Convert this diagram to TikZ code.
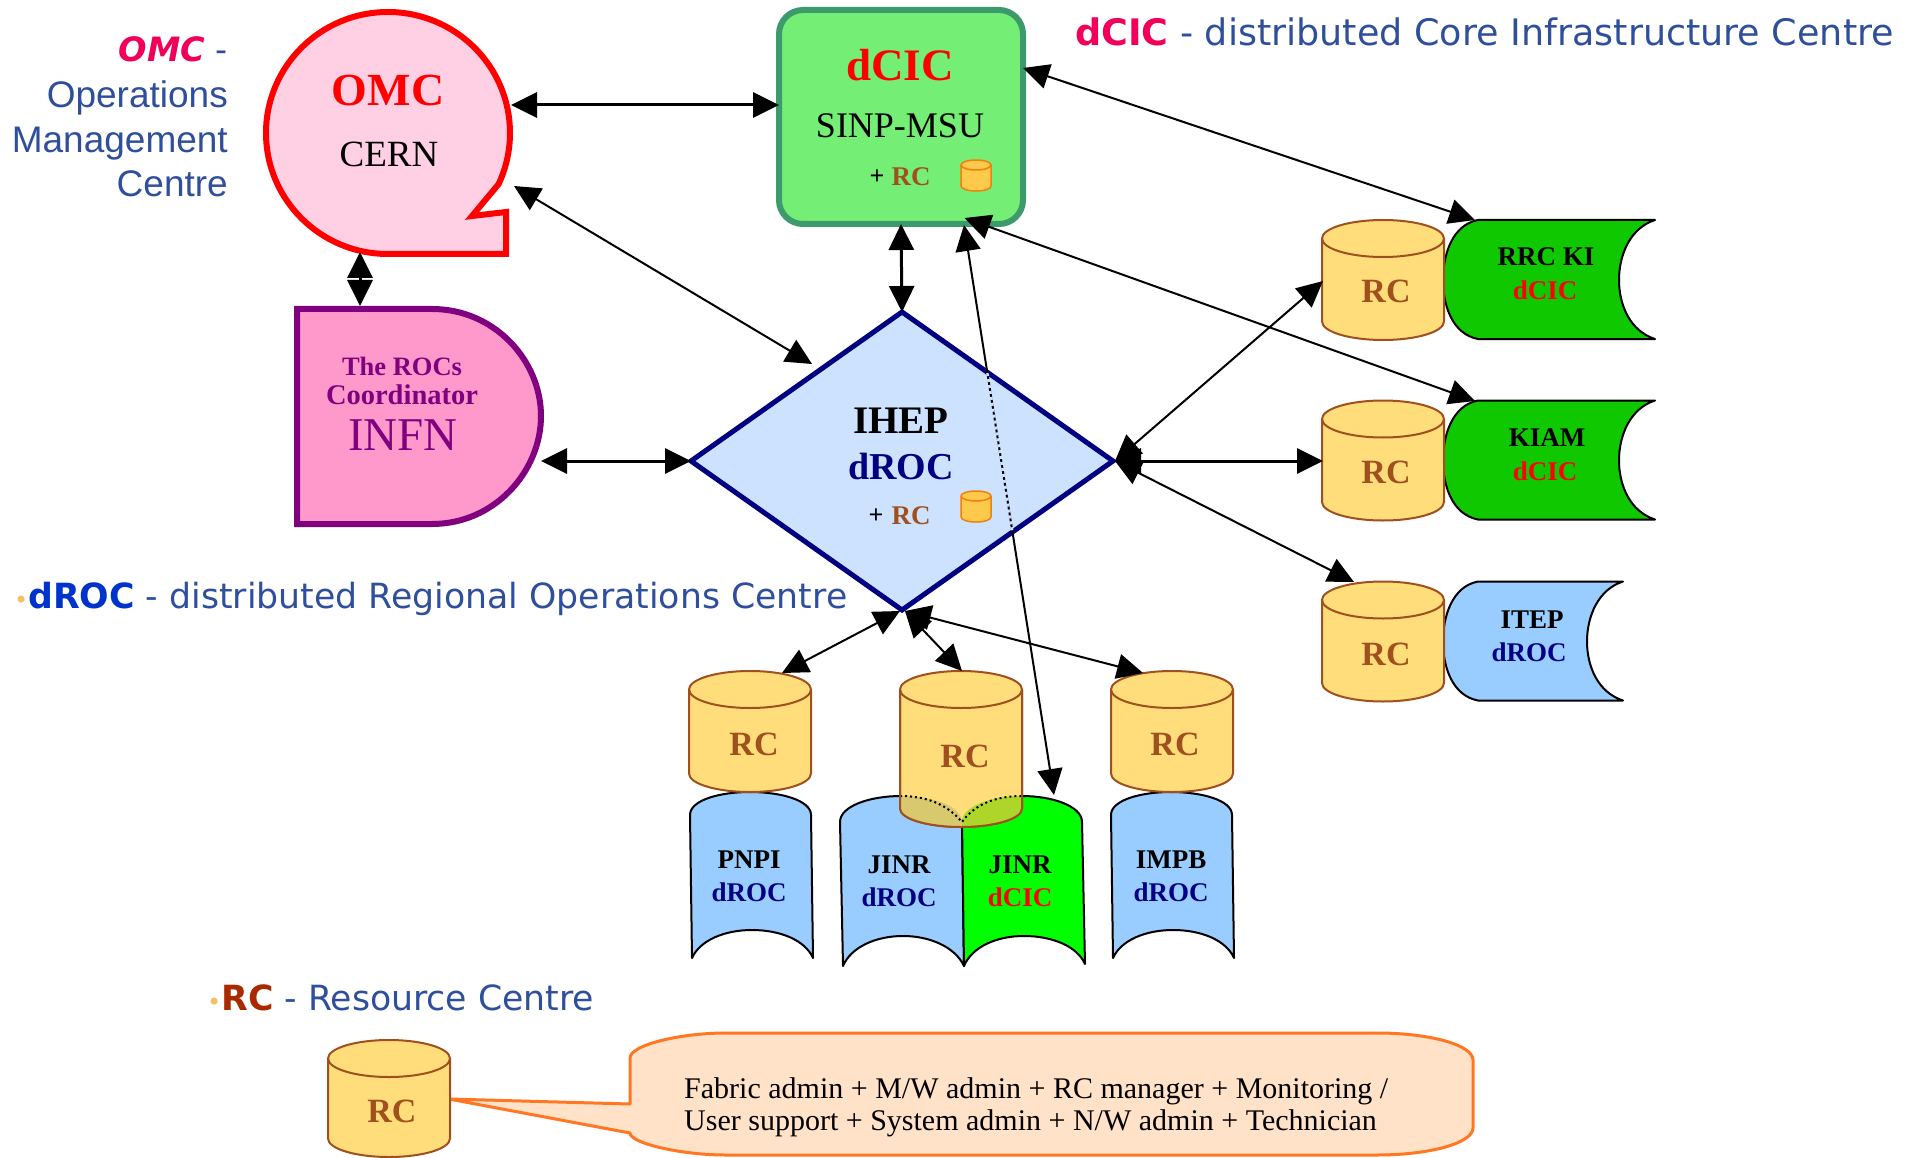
\documentclass[tikz,border=0pt]{standalone}
\usepackage{fontspec}
\setmainfont{Liberation Serif}
\newfontfamily\armfont{Liberation Sans}
\newfontfamily\comfont{DejaVu Sans}
\usetikzlibrary{arrows.meta,shapes.geometric}
\definecolor{lblblue}{HTML}{2F4F9C}
\definecolor{lblmag}{HTML}{F0005A}
\definecolor{rcbrown}{HTML}{A0501E}
\definecolor{cylfillc}{HTML}{FFDD7A}
\definecolor{navyc}{HTML}{000080}
\definecolor{purplec}{HTML}{800080}
\definecolor{tapeblue}{HTML}{99CCFF}
\definecolor{tapegreen}{HTML}{10C800}
\definecolor{omcfill}{HTML}{FFCFE3}
\definecolor{infnfill}{HTML}{FF99CC}
\definecolor{diafill}{HTML}{CCE2FF}
\definecolor{dcicfill}{HTML}{74EE74}
\definecolor{dcicline}{HTML}{3C9A6C}
\definecolor{callfill}{HTML}{FFE2C8}
\definecolor{callline}{HTML}{FF7722}
\definecolor{ovleft}{HTML}{D8C86E}
\definecolor{ovright}{HTML}{AED62A}
\definecolor{rcdark}{HTML}{AA2A00}
\definecolor{droclab}{HTML}{0033CC}
\definecolor{bulletc}{HTML}{F5C060}
\newcommand{\fs}[1]{\fontsize{#1}{#1}\selectfont}
\tikzset{
  conn/.style={draw=black,line width=2pt,{Triangle[length=26pt,width=25pt]}-{Triangle[length=26pt,width=25pt]}},
  thickconn/.style={conn,line width=3pt},
  cylstyle/.style={draw=rcbrown,line width=2pt},
  tape/.style={draw=black,line width=2pt,line join=round},
  rclabel/.style={text=rcbrown,font=\bfseries\fs{34},inner sep=0pt},
  tapetext/.style={font=\bfseries\fs{27},inner sep=0pt},
  lab/.style={inner sep=0pt,anchor=base west,font=\comfont\fs{34.7},text=lblblue},
  arm/.style={inner sep=0pt,anchor=base east,font=\armfont\fs{37},text=lblblue}
}
\newcommand{\rccyl}[3]{% left, top, height
  \begin{scope}[shift={(#1,-#2)}]
    \path[cylstyle,fill=cylfillc] (0,-18.5) arc[start angle=180,end angle=0,x radius=61pt,y radius=18.5pt]
      -- (122,-#3+18.5) arc[start angle=0,end angle=-180,x radius=61pt,y radius=18.5pt] -- cycle;
    \draw[cylstyle] (0,-18.5) arc[start angle=180,end angle=360,x radius=61pt,y radius=18.5pt];
  \end{scope}}
\newcommand{\smallcyl}[2]{% left, top
  \begin{scope}[shift={(#1,-#2)}]
    \path[draw=orange!80!brown,line width=1.5pt,fill=orange!60!yellow!70] (0,-5) arc[start angle=180,end angle=0,x radius=15pt,y radius=5pt]
      -- (30,-26) arc[start angle=0,end angle=-180,x radius=15pt,y radius=5pt] -- cycle;
    \draw[draw=orange!80!brown,line width=1.5pt] (0,-5) arc[start angle=180,end angle=360,x radius=15pt,y radius=5pt];
  \end{scope}}
% horizontal tape: top y, left bulge x, right offset, fill
\newcommand{\htape}[4]{%
  \draw[tape,fill=#4] (#2+35,-#1) -- (#2+#3,-#1)
    .. controls (#2+#3-25,-#1-8) and (#2+#3-36,-#1-35) .. (#2+#3-36,-#1-60)
    .. controls (#2+#3-36,-#1-85) and (#2+#3-25,-#1-111) .. (#2+#3,-#1-119)
    -- (#2+35,-#1-119)
    .. controls (#2+9,-#1-114) and (#2,-#1-85) .. (#2,-#1-60)
    .. controls (#2,-#1-35) and (#2+9,-#1-5) .. (#2+35,-#1) -- cycle;}
% vertical tape: left x, top y
\newcommand{\vtape}[2]{%
  \draw[tape,fill=tapeblue] (#1,-#2-23)
    .. controls (#1,-#2-8) and (#1+30,-#2) .. (#1+60,-#2)
    .. controls (#1+90,-#2) and (#1+121,-#2-8) .. (#1+121,-#2-23)
    -- (#1+123,-#2-166)
    .. controls (#1+115,-#2-148) and (#1+90,-#2-138) .. (#1+62,-#2-138)
    .. controls (#1+35,-#2-138) and (#1+10,-#2-148) .. (#1+2,-#2-166) -- cycle;}
\def\jinrL{(840,-822) .. controls (840,-806) and (870,-796) .. (901,-796)
    .. controls (932,-796) and (962,-806) .. (962,-822)
    -- (964,-966) .. controls (955,-947) and (930,-936) .. (903,-936)
    .. controls (876,-936) and (851,-947) .. (843,-966) -- cycle}
\def\jinrR{(962,-822) .. controls (962,-806) and (992,-796) .. (1022,-796)
    .. controls (1052,-796) and (1082,-806) .. (1082,-822)
    -- (1085,-964) .. controls (1077,-946) and (1052,-936) .. (1024,-936)
    .. controls (996,-936) and (972,-947) .. (964,-966) -- cycle}
\def\jrcclip{(900,-689.5) -- (1022,-689.5) -- (1022,-808.5) arc[start angle=0,end angle=-180,x radius=61pt,y radius=18.5pt] -- cycle}
\begin{document}
\begin{tikzpicture}[x=1pt,y=1pt]
\useasboundingbox (0,-1158) rectangle (1914,0);
\fill[white] (0,-1158) rectangle (1914,0);

% side labels
\node[lab,font=\comfont\fs{36.5}] (lbldcic) at (1075,-46) {{\bfseries\color{lblmag}dCIC} - distributed Core Infrastructure Centre};
\node[lab] (lbldroc) at (14,-608) {{\fs{24}\color{bulletc}•}{\bfseries\color{droclab}dROC} - distributed Regional Operations Centre};
\node[lab] (lblrc) at (207,-1010) {{\fs{24}\color{bulletc}•}{\bfseries\color{rcdark}RC} - Resource Centre};
\node[inner sep=0pt,anchor=base east,font=\comfont\fs{33.5},text=lblblue] (lblomc) at (228,-62) {{\bfseries\itshape\color{lblmag}OMC} -};
\node[arm] (lblomc1) at (228,-108) {Operations};
\node[arm] (lblomc2) at (228,-153) {Management};
\node[arm] (lblomc3) at (228,-197) {Centre};

% OMC
\draw[draw=red,line width=6pt,fill=omcfill,line join=miter] (388,-254)
  arc[start angle=270,end angle=-25,x radius=122pt,y radius=121pt]
  -- (472,-216) -- (506,-212) -- (506,-254) -- cycle;
\node[inner sep=0pt,text=red,font=\bfseries\fs{46}] (omct) at (388,-90) {OMC};
\node[inner sep=0pt,font=\fs{37}] (omcc) at (389,-154) {CERN};

% INFN
\draw[draw=purplec,line width=6pt,fill=infnfill,line join=miter] (297,-309) -- (432,-309)
  .. controls (495,-309) and (541,-361) .. (541,-416)
  .. controls (541,-471) and (495,-524) .. (432,-524) -- (297,-524) -- cycle;
\node[inner sep=0pt,text=purplec,font=\bfseries\fs{26.5}] (roc1) at (402,-366) {The ROCs};
\node[inner sep=0pt,text=purplec,font=\bfseries\fs{28.5}] (roc2) at (402,-395) {Coordinator};
\node[inner sep=0pt,text=purplec,font=\fs{47}] (infn) at (403,-435) {INFN};

% dCIC
\node[draw=dcicline,line width=6pt,fill=dcicfill,rounded corners=24pt,
  minimum width=244pt,minimum height=214pt,inner sep=0pt,outer sep=0pt] (dcic) at (901,-117) {};
\node[inner sep=0pt,text=red,font=\bfseries\fs{45}] (dcict) at (900,-65) {dCIC};
\node[inner sep=0pt,font=\fs{36}] (sinp) at (900,-126) {SINP-MSU};
\node[inner sep=0pt,font=\bfseries\fs{26}] (dcicplus) at (877,-177) {+};
\node[rclabel,font=\bfseries\fs{27}] (dcicrc) at (911,-177) {RC};
\smallcyl{961}{160}

% IHEP diamond
\node[draw=navyc,line width=5pt,fill=diafill,diamond,shape aspect=1.416,
  minimum width=422pt,minimum height=298pt,inner sep=0pt,outer sep=0pt] (ihep) at (902,-461) {};
\node[inner sep=0pt,font=\bfseries\fs{39}] (ihept) at (901,-421) {IHEP};
\node[inner sep=0pt,text=navyc,font=\bfseries\fs{38}] (ihepd) at (901,-467) {dROC};
\node[inner sep=0pt,font=\bfseries\fs{26}] (iplus) at (876,-516) {+};
\node[rclabel,font=\bfseries\fs{27}] (iheprc) at (911,-516) {RC};
\smallcyl{961}{491}

% right column
\htape{220}{1443}{212}{tapegreen}
\htape{400.5}{1443}{212}{tapegreen}
\htape{581.5}{1443}{180}{tapeblue}
\rccyl{1322}{220}{120}
\rccyl{1322}{400.5}{120}
\rccyl{1322}{581.5}{120}
\node[rclabel] (rc1) at (1386,-291) {RC};
\node[rclabel] (rc2) at (1386,-472) {RC};
\node[rclabel] (rc3) at (1386,-654) {RC};
\node[tapetext] (rrc) at (1546,-257) {RRC KI};
\node[tapetext,text=red] (rrcd) at (1545,-290) {dCIC};
\node[tapetext] (kiam) at (1547,-438) {KIAM};
\node[tapetext,text=red] (kiamd) at (1545,-471) {dCIC};
\node[tapetext] (itep) at (1532,-620) {ITEP};
\node[tapetext,text=navyc] (itepd) at (1529,-652) {dROC};

% bottom row
\vtape{690}{792}
\vtape{1111}{792}
\draw[tape,fill=tapeblue] \jinrL;
\draw[tape,fill=green] \jinrR;
\rccyl{689}{671}{121}
\rccyl{1111}{671}{121}
\rccyl{900}{671}{156}
\begin{scope}
  \clip \jrcclip;
  \fill[ovleft] \jinrL;
  \fill[ovright] \jinrR;
  \draw[black,line width=2pt,dash pattern=on 2pt off 3pt] (900,-796) .. controls (932,-796) and (950,-808) .. (962,-822)
    .. controls (972,-808) and (990,-796) .. (1022,-796);
\end{scope}
\draw[cylstyle] (900,-689.5) -- (900,-808.5) arc[start angle=180,end angle=360,x radius=61pt,y radius=18.5pt] -- (1022,-689.5);
\node[rclabel] (rc4) at (754,-744) {RC};
\node[rclabel] (rc5) at (965,-756) {RC};
\node[rclabel] (rc6) at (1175,-744) {RC};
\node[tapetext] (pnpi) at (749,-860) {PNPI};
\node[tapetext,text=navyc] (pnpid) at (749,-892) {dROC};
\node[tapetext] (jinr1) at (899,-865) {JINR};
\node[tapetext,text=navyc] (jinr1d) at (899,-897) {dROC};
\node[tapetext] (jinr2) at (1020,-865) {JINR};
\node[tapetext,text=red] (jinr2d) at (1020,-897) {dCIC};
\node[tapetext] (impb) at (1171,-860) {IMPB};
\node[tapetext,text=navyc] (impbd) at (1171,-892) {dROC};

% legend
\draw[draw=callline,line width=3pt,fill=callfill,line join=round] (630,-1104) -- (630,-1058)
  .. controls (630,-1045) and (680,-1033) .. (726,-1033) -- (1377,-1033)
  .. controls (1430,-1033) and (1473,-1045) .. (1473,-1060) -- (1473,-1128)
  .. controls (1473,-1143) and (1430,-1155) .. (1377,-1155) -- (726,-1155)
  .. controls (680,-1155) and (630,-1143) .. (630,-1133) -- (449,-1099) -- cycle;
\rccyl{328}{1040}{117}
\node[rclabel] (rc7) at (392,-1111) {RC};
\node[inner sep=0pt,anchor=base west,font=\fs{30}] (call1) at (684,-1098) {Fabric admin + M/W admin + RC manager + Monitoring /};
\node[inner sep=0pt,anchor=base west,font=\fs{30}] (call2) at (684,-1130) {User support + System admin + N/W admin + Technician};

% connector end points
\coordinate (omcE) at (511,-105);
\coordinate (omcSE) at (514,-186);
\coordinate (omcS) at (360,-252);
\coordinate (infnN) at (360,-306);
\coordinate (infnE) at (541,-461);
\coordinate (ihepNW) at (812,-364);
\coordinate (ihepE) at (1115,-461);
\coordinate (ihepS) at (900,-611);
\coordinate (ihepS2) at (905,-611);
\coordinate (dcicNE) at (1023,-68);
\coordinate (dcicSE) at (964.5,-218);
\coordinate (dcicB) at (964,-225);
\coordinate (rrcT) at (1475,-220);
\coordinate (kiamT) at (1475,-401);
\coordinate (jinrT) at (1054,-795);
\coordinate (rc1W) at (1323,-281);
\coordinate (rc2W) at (1323,-461);
\coordinate (rc3T) at (1354,-582);
\coordinate (rc4T) at (782,-673);
\coordinate (rc5T) at (962,-671);
\coordinate (rc6T) at (1143,-673);

% connectors
\draw[thickconn] (omcE) -- (dcic.west |- omcE);
\draw[conn] (omcSE) -- (ihepNW);
\draw[thickconn] (omcS) -- (infnN);
\draw[thickconn] (infnE) -- (ihep.west);
\draw[thickconn] (dcic.south) -- (ihep.north);
\draw[conn] (dcicNE) -- (rrcT);
\draw[conn] (dcicSE) -- (kiamT);
\draw[conn] (dcicB) -- (jinrT);
\begin{scope}
  \clip (ihep.north) -- (ihep.east) -- (ihep.south) -- (ihep.west) -- cycle;
  \draw[diafill,line width=2.6pt,dash pattern=on 3pt off 3pt] (dcicB) -- (jinrT);
\end{scope}
\draw[conn] (ihepE) -- (rc1W);
\draw[thickconn] (ihepE) -- (rc2W);
\draw[conn] (ihepE) -- (rc3T);
\draw[conn] (ihepS) -- (rc4T);
\draw[conn] (ihepS2) -- (rc5T);
\draw[conn] (ihepS2) -- (rc6T);
\end{tikzpicture}
\end{document}
